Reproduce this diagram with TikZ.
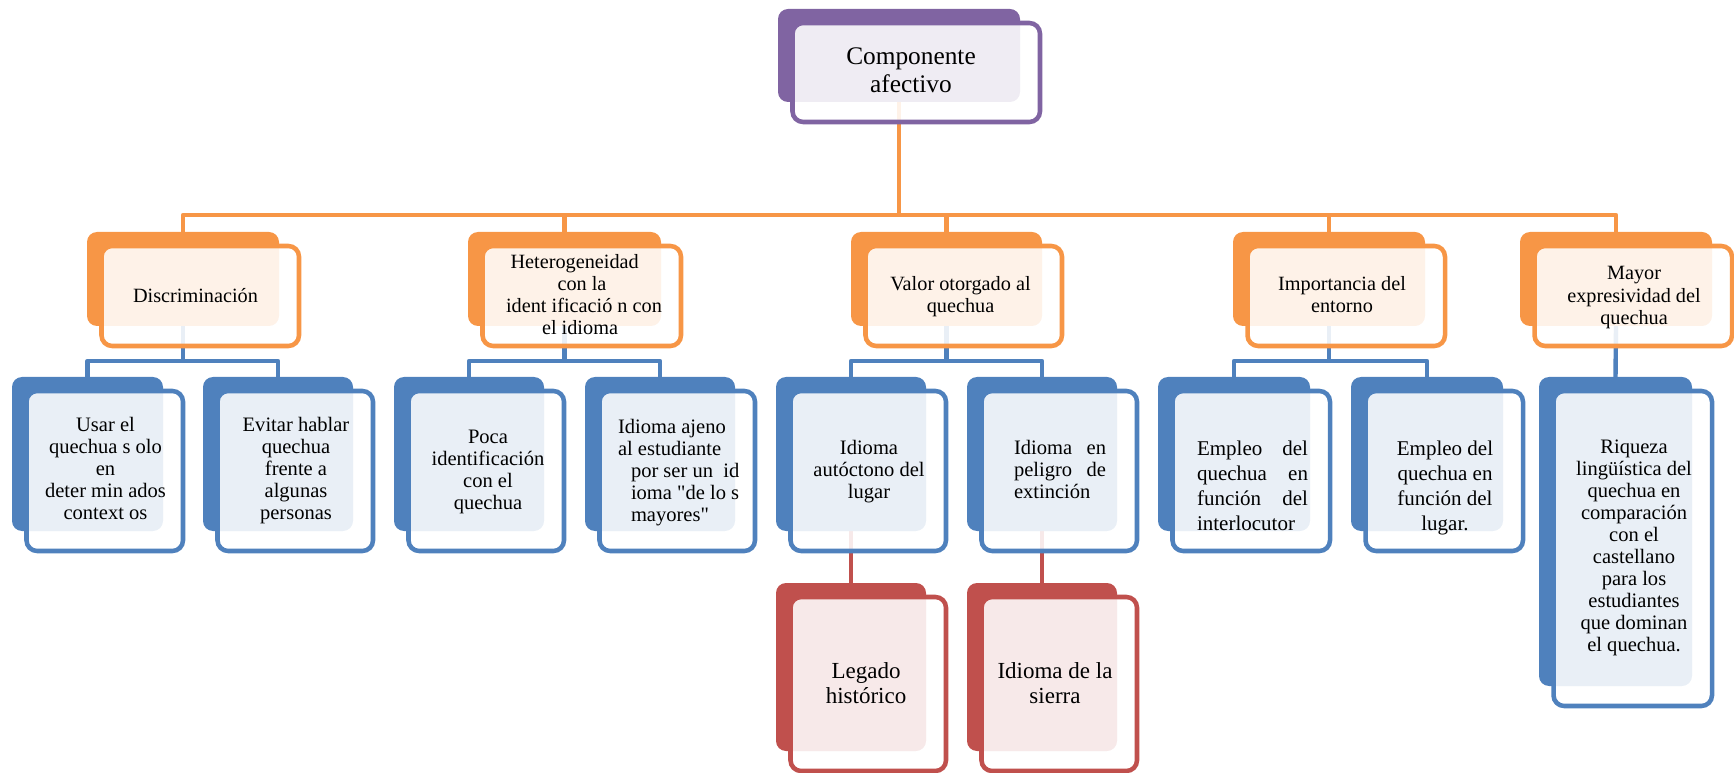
\documentclass[tikz,border=0pt]{standalone}
\usepackage{fontspec}
\setmainfont{Liberation Serif}
% same family without the TeX quote mapping, for straight double quotes
\newfontfamily\nomap{Liberation Serif}
\usetikzlibrary{calc}

\definecolor{cOrange}{HTML}{F79646}
\definecolor{cBlue}{HTML}{4F81BD}
\definecolor{cRed}{HTML}{C0504D}
\definecolor{cPurple}{HTML}{8064A2}

\pgfdeclarelayer{bg}
\pgfsetlayers{bg,main}

% #1 name, #2 colour, #3 x, #4 y, #5 width, #6 height (back panel, in px)
\newcommand\smbox[6]{%
  \node[backbox, fill=#2, minimum width={#5*0.75pt}, minimum height={#6*0.75pt}]
    (#1) at ({#3+#5/2}, {#4+#6/2}) {};
  \node[frontbox, draw=#2, minimum width={(#5+5.5)*0.75pt}, minimum height={(#6+6)*0.75pt}]
    (#1f) at ($(#1.center)+(17.25,17)$) {};
}
\newcommand\sq{{\nomap"}}

\begin{document}
\begin{tikzpicture}[x=0.75pt, y=-0.75pt,
  backbox/.style={rectangle, rounded corners=7.5pt, inner sep=0pt, outer sep=0pt, draw=none},
  frontbox/.style={rectangle, rounded corners=8pt, inner sep=0pt, outer sep=0pt,
    fill=white, fill opacity=0.88, line width=3.4pt},
  txt/.style={inner sep=0pt, outer sep=0pt, align=center, text=black},
  fontTop/.style={font=\fontsize{19pt}{21pt}\selectfont},
  fontOne/.style={font=\fontsize{15.2pt}{16.7pt}\selectfont},
  fontTwo/.style={font=\fontsize{15.4pt}{16.5pt}\selectfont},
  fontEmp/.style={font=\fontsize{15.75pt}{18.75pt}\selectfont},
  fontRed/.style={font=\fontsize{17.25pt}{18.75pt}\selectfont},
  conn/.style={line width=3.3pt, line join=round},
]
\useasboundingbox (0,0) rectangle (1734,773);

% ---- boxes ----
\smbox{top}{cPurple}{778}{9}{242}{93}

\smbox{dis}{cOrange}{87}{232}{192}{94}
\smbox{het}{cOrange}{468}{232}{193}{94}
\smbox{val}{cOrange}{851}{232}{191}{94}
\smbox{imp}{cOrange}{1233}{232}{192}{94}
\smbox{may}{cOrange}{1520}{232}{192}{94}

\smbox{usar}{cBlue}{12}{377}{151}{154}
\smbox{evit}{cBlue}{203}{377}{150}{154}
\smbox{poca}{cBlue}{394}{377}{150}{154}
\smbox{ajen}{cBlue}{585}{377}{150}{154}
\smbox{auto}{cBlue}{776}{377}{150}{154}
\smbox{peli}{cBlue}{967}{377}{150}{154}
\smbox{empa}{cBlue}{1158}{377}{152}{154}
\smbox{empb}{cBlue}{1351}{377}{152}{154}
\smbox{riq}{cBlue}{1539}{377}{153}{309}

\smbox{leg}{cRed}{776}{583}{150}{168}
\smbox{sie}{cRed}{967}{583}{150}{168}

% ---- texts ----
\node[txt, fontTop] (topt) at (911,73.4) {\strut Componente\\afectivo\strut};

\node[txt, fontOne] (dist) at (195.5,297.6) {\strut Discriminación\strut};
\node[txt, fontOne] (hett) at (580,297) {\strut Heterogeneidad\hspace*{8pt}\\\hspace*{3pt}con la\\\hspace*{6pt}ident ificació n con\\el idioma\strut};
\node[txt, fontOne] (valt) at (960.5,297) {\strut Valor otorgado al\\quechua\strut};
\node[txt, fontOne] (impt) at (1342,297) {\strut Importancia del\\entorno\strut};
\node[txt, fontOne] (mayt) at (1634,297.6) {\strut Mayor\\expresividad del\\quechua\strut};

\node[txt, fontTwo] (usart) at (105.5,471) {\strut Usar el\\quechua s olo\\en\\deter min ados\\context os\strut};
\node[txt, fontTwo] (evitt) at (296,471) {\strut Evitar hablar\\quechua\\frente a\\algunas\\personas\strut};
\node[txt, fontTwo] (pocat) at (488,472) {\strut Poca\\identificación\\con el\\quechua\strut};
\node[txt, fontTwo, align=left, anchor=west] (ajent) at (618,472.6)
  {\strut Idioma ajeno\\al estudiante\\\hspace*{9.75pt}por ser un~~id\\\hspace*{9.75pt}ioma \sq de lo s\\\hspace*{9.75pt}mayores\sq\strut};
\node[txt, fontTwo] (autot) at (869,471.6) {\strut Idioma\\autóctono del\\lugar\strut};
\node[txt, fontTwo] (pelit) at (1060,471.6)
  {\strut\makebox[69pt][s]{Idioma en}\\\makebox[69pt][s]{peligro de}\\\makebox[69pt][l]{extinción}\strut};
\node[txt, fontEmp] (empat) at (1252.5,488)
  {\strut\makebox[83.25pt][s]{Empleo del}\\\makebox[83.25pt][s]{quechua en}\\\makebox[83.25pt][s]{función del}\\\makebox[83.25pt][l]{interlocutor}\strut};
\node[txt, fontEmp] (empbt) at (1445,488) {\strut Empleo del\\quechua en\\función del\\lugar.\strut};
\node[txt, fontTwo] (riqt) at (1634,548)
  {\strut Riqueza\\lingüística del\\quechua en\\comparación\\con el\\castellano\\para los\\estudiantes\\que dominan\\el quechua.\strut};

\node[txt, fontRed] (legt) at (866,685.8) {\strut Legado\\histórico\strut};
\node[txt, fontRed] (siet) at (1055,685.8) {\strut Idioma de la\\sierra\strut};

% ---- connectors, behind the boxes ----
\coordinate (obar) at (0,215);
\coordinate (bbar) at (0,361);
\begin{pgfonlayer}{bg}
  \foreach \c in {dis,het,val,imp,may}
    \draw[conn, cOrange] (top.south) |- (\c.north |- obar) -- (\c.north);
  \foreach \p/\c in {dis/usar,dis/evit,het/poca,het/ajen,val/auto,val/peli,imp/empa,imp/empb}
    \draw[conn, cBlue] (\p.south) |- (\c.north |- bbar) -- (\c.north);
  \draw[conn, cBlue] (may.south) -- (riq.north);
  \draw[conn, cRed] (auto.south) -- (leg.north);
  \draw[conn, cRed] (peli.south) -- (sie.north);
\end{pgfonlayer}
\end{tikzpicture}
\end{document}
